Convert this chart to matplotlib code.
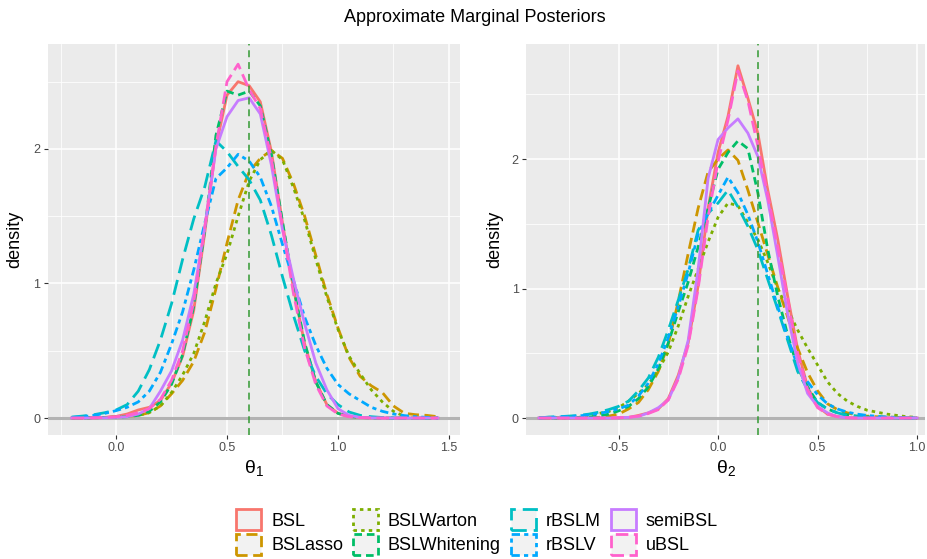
import numpy as np
import matplotlib
matplotlib.use("Agg")
import matplotlib.pyplot as plt
from matplotlib.patches import Patch

plt.rcParams["font.family"] = ["Liberation Sans", "DejaVu Sans"]
plt.rcParams["lines.scale_dashes"] = False

# ---- data: kernel density estimates of the two marginal posteriors ----
methods = ["BSL", "BSLasso", "BSLWarton", "BSLWhitening", "rBSLM", "rBSLV", "semiBSL", "uBSL"]
true_theta = [0.6, 0.2]

theta1_grid = [-0.20, -0.15, -0.10, -0.05, 0.00, 0.05, 0.10, 0.15, 0.20, 0.25, 0.30, 0.35,
               0.40, 0.45, 0.50, 0.55, 0.60, 0.65, 0.70, 0.75, 0.80, 0.85, 0.90, 0.95,
               1.00, 1.05, 1.10, 1.15, 1.20, 1.25, 1.30, 1.35, 1.40, 1.45]

bsl_t1 = [0.000, 0.001, 0.002, 0.005, 0.012, 0.030, 0.060, 0.080, 0.130, 0.260, 0.460, 0.800,
          1.380, 2.020, 2.400, 2.500, 2.470, 2.350, 1.980, 1.450, 0.960, 0.550, 0.270, 0.100,
          0.035, 0.012, 0.004, 0.001, 0.000, 0.000, 0.000, 0.000, 0.000, 0.000]
bslasso_t1 = [0.000, 0.000, 0.002, 0.004, 0.008, 0.012, 0.020, 0.040, 0.090, 0.180, 0.280, 0.420,
              0.640, 0.960, 1.300, 1.620, 1.830, 1.930, 1.990, 1.930, 1.740, 1.500, 1.210, 0.920,
              0.670, 0.450, 0.310, 0.240, 0.190, 0.090, 0.035, 0.025, 0.020, 0.010]
bslwarton_t1 = [0.000, 0.000, 0.002, 0.004, 0.008, 0.012, 0.020, 0.040, 0.090, 0.190, 0.320, 0.480,
                0.720, 1.000, 1.220, 1.500, 1.760, 1.920, 1.990, 1.920, 1.710, 1.470, 1.180, 0.900,
                0.660, 0.460, 0.330, 0.210, 0.120, 0.050, 0.012, 0.003, 0.000, 0.000]
bslwhitening_t1 = [0.000, 0.000, 0.002, 0.004, 0.006, 0.010, 0.020, 0.050, 0.120, 0.250, 0.470, 0.830,
                   1.400, 2.100, 2.430, 2.400, 2.430, 2.320, 1.960, 1.460, 0.970, 0.560, 0.270, 0.100,
                   0.035, 0.012, 0.004, 0.001, 0.000, 0.000, 0.000, 0.000, 0.000, 0.000]
rbslm_t1 = [0.007, 0.015, 0.025, 0.040, 0.060, 0.100, 0.200, 0.360, 0.580, 0.850, 1.180, 1.480,
            1.720, 2.060, 1.980, 1.870, 1.770, 1.620, 1.360, 1.050, 0.760, 0.500, 0.310, 0.180,
            0.100, 0.045, 0.020, 0.010, 0.004, 0.001, 0.000, 0.000, 0.000, 0.000]
rbslv_t1 = [0.005, 0.010, 0.020, 0.035, 0.055, 0.080, 0.120, 0.200, 0.340, 0.550, 0.790, 1.100,
            1.450, 1.780, 1.860, 1.960, 1.910, 1.790, 1.575, 1.290, 1.020, 0.750, 0.540, 0.370,
            0.250, 0.180, 0.130, 0.080, 0.050, 0.030, 0.018, 0.010, 0.005, 0.000]
semibsl_t1 = [0.000, 0.000, 0.001, 0.002, 0.005, 0.010, 0.030, 0.070, 0.200, 0.350, 0.580, 0.920,
              1.420, 2.000, 2.240, 2.360, 2.380, 2.260, 1.880, 1.400, 1.030, 0.700, 0.410, 0.210,
              0.070, 0.020, 0.005, 0.001, 0.000, 0.000, 0.000, 0.000, 0.000, 0.000]
ubsl_t1 = [0.000, 0.000, 0.002, 0.005, 0.010, 0.020, 0.040, 0.070, 0.140, 0.280, 0.500, 0.860,
           1.420, 2.020, 2.500, 2.630, 2.440, 2.300, 1.930, 1.420, 0.920, 0.520, 0.250, 0.090,
           0.030, 0.010, 0.003, 0.001, 0.000, 0.000, 0.000, 0.000, 0.000, 0.000]

theta2_grid = [-0.90, -0.85, -0.80, -0.75, -0.70, -0.65, -0.60, -0.55, -0.50, -0.45, -0.40,
               -0.35, -0.30, -0.25, -0.20, -0.15, -0.10, -0.05, 0.00, 0.05, 0.10, 0.15, 0.20,
               0.25, 0.30, 0.35, 0.40, 0.45, 0.50, 0.55, 0.60, 0.65, 0.70, 0.75, 0.80, 0.85,
               0.90, 0.95, 1.00]

bsl_t2 = [0.000, 0.000, 0.000, 0.000, 0.000, 0.000, 0.000, 0.000, 0.002, 0.005, 0.020,
          0.040, 0.070, 0.150, 0.330, 0.580, 1.020, 1.620, 2.050, 2.330, 2.720, 2.470, 2.200,
          1.760, 1.380, 0.940, 0.530, 0.240, 0.090, 0.030, 0.012, 0.003, 0.000, 0.000, 0.000,
          0.000, 0.000, 0.000, 0.000]
bslasso_t2 = [0.000, 0.000, 0.000, 0.001, 0.002, 0.003, 0.005, 0.015, 0.030, 0.070, 0.120,
              0.220, 0.360, 0.570, 0.900, 1.270, 1.620, 1.900, 2.000, 2.070, 1.990, 1.760, 1.510,
              1.260, 1.010, 0.780, 0.540, 0.350, 0.210, 0.110, 0.065, 0.040, 0.022, 0.015, 0.010,
              0.008, 0.005, 0.002, 0.000]
bslwarton_t2 = [0.000, 0.000, 0.000, 0.002, 0.005, 0.020, 0.035, 0.050, 0.080, 0.130, 0.190,
                0.260, 0.370, 0.510, 0.710, 0.940, 1.150, 1.360, 1.550, 1.660, 1.640, 1.510, 1.380,
                1.200, 1.000, 0.840, 0.680, 0.540, 0.410, 0.280, 0.190, 0.130, 0.090, 0.060, 0.045,
                0.030, 0.020, 0.010, 0.005]
bslwhitening_t2 = [0.000, 0.000, 0.000, 0.002, 0.004, 0.008, 0.015, 0.030, 0.055, 0.090, 0.150,
                   0.240, 0.380, 0.580, 0.820, 1.050, 1.320, 1.620, 1.920, 2.050, 2.140, 2.080, 1.740,
                   1.300, 0.940, 0.640, 0.390, 0.240, 0.120, 0.070, 0.040, 0.025, 0.015, 0.010, 0.005,
                   0.002, 0.000, 0.000, 0.000]
rbslm_t2 = [0.000, 0.008, 0.010, 0.015, 0.020, 0.030, 0.045, 0.065, 0.090, 0.130, 0.210,
            0.310, 0.470, 0.680, 0.910, 1.150, 1.450, 1.580, 1.660, 1.760, 1.630, 1.480, 1.300,
            1.070, 0.840, 0.600, 0.360, 0.220, 0.120, 0.070, 0.040, 0.020, 0.010, 0.005, 0.002,
            0.000, 0.000, 0.000, 0.000]
rbslv_t2 = [0.000, 0.005, 0.008, 0.012, 0.016, 0.025, 0.035, 0.050, 0.070, 0.100, 0.170,
            0.270, 0.420, 0.620, 0.860, 1.120, 1.420, 1.580, 1.720, 1.860, 1.740, 1.570, 1.360,
            1.110, 0.860, 0.620, 0.400, 0.280, 0.180, 0.110, 0.070, 0.045, 0.030, 0.020, 0.013,
            0.008, 0.004, 0.002, 0.000]
semibsl_t2 = [0.000, 0.000, 0.000, 0.000, 0.000, 0.000, 0.000, 0.000, 0.002, 0.005, 0.012,
              0.040, 0.080, 0.140, 0.310, 0.600, 1.150, 1.850, 2.150, 2.240, 2.310, 2.200, 2.020,
              1.680, 1.250, 0.800, 0.430, 0.190, 0.090, 0.040, 0.010, 0.002, 0.000, 0.000, 0.000,
              0.000, 0.000, 0.000, 0.000]
ubsl_t2 = [0.000, 0.000, 0.000, 0.000, 0.000, 0.000, 0.000, 0.000, 0.002, 0.005, 0.015,
           0.035, 0.065, 0.140, 0.300, 0.560, 1.000, 1.550, 1.980, 2.300, 2.680, 2.450, 2.100,
           1.720, 1.320, 0.920, 0.500, 0.220, 0.080, 0.030, 0.010, 0.002, 0.000, 0.000, 0.000,
           0.000, 0.000, 0.000, 0.000]

theta1_curves = [bsl_t1, bslasso_t1, bslwarton_t1, bslwhitening_t1, rbslm_t1, rbslv_t1, semibsl_t1, ubsl_t1]
theta2_curves = [bsl_t2, bslasso_t2, bslwarton_t2, bslwhitening_t2, rbslm_t2, rbslv_t2, semibsl_t2, ubsl_t2]

# ggplot hue palette and per-method line types (dash lengths in points)
colors = ["#F8766D", "#CD9600", "#7CAE00", "#00BE67", "#00BFC4", "#00A9FF", "#C77CFF", "#FF61CC"]
linestyles = ["solid", (0, (8, 4)), (0, (2.5, 3)), (0, (5.5, 3.5)), (0, (11, 5)),
              (0, (6, 3, 3, 3)), "solid", (0, (9, 4))]

W, H = 927, 559
fig = plt.figure(figsize=(W / 100, H / 100), dpi=100)
ax1 = fig.add_axes([47.5 / W, 124 / H, 412.5 / W, 391 / H])
ax2 = fig.add_axes([526 / W, 124 / H, 399 / W, 391 / H])


def style_panel(ax, xlim, ylim, xmajor, xlabels, xminor, xlabel, ylab_x):
    ax.set_facecolor("#EBEBEB")
    for s in ax.spines.values():
        s.set_visible(False)
    ax.set_xlim(*xlim)
    ax.set_ylim(*ylim)
    ax.set_xticks(xmajor)
    ax.set_xticklabels(xlabels)
    ax.set_xticks(xminor, minor=True)
    ax.set_yticks([0, 1, 2])
    ax.set_yticklabels(["0", "1", "2"])
    ax.set_yticks([0.5, 1.5, 2.5], minor=True)
    ax.grid(which="major", color="white", lw=1.1)
    ax.grid(which="minor", color="white", lw=0.55)
    ax.set_axisbelow(True)
    ax.tick_params(which="major", length=2.8, width=0.8, color="#333333",
                   labelsize=9, labelcolor="#4D4D4D", pad=2.5)
    ax.tick_params(which="minor", length=0)
    ax.set_xlabel(xlabel, fontsize=14)
    ax.set_ylabel("density", fontsize=13)
    ax.xaxis.set_label_coords(0.5, -0.06)
    ax.yaxis.set_label_coords(ylab_x, 0.5)


style_panel(ax1, (-0.309, 1.55), (-0.126, 2.78), [0.0, 0.5, 1.0, 1.5],
            ["0.0", "0.5", "1.0", "1.5"], [-0.25, 0.25, 0.75, 1.25],
            r"$\mathregular{θ_1}$", -0.06)
style_panel(ax2, (-0.965, 1.04), (-0.131, 2.888), [-0.5, 0.0, 0.5, 1.0],
            ["-0.5", "0.0", "0.5", "1.0"], [-0.75, -0.25, 0.25, 0.75],
            r"$\mathregular{θ_2}$", -0.056)

for ax, grid, curves, truth in [(ax1, theta1_grid, theta1_curves, true_theta[0]),
                                (ax2, theta2_grid, theta2_curves, true_theta[1])]:
    ax.axhline(0, color="#B3B3B3", lw=2.2, zorder=1.5)
    for y, c, ls in zip(curves, colors, linestyles):
        ax.plot(grid, y, color=c, lw=2.0, ls=ls, dash_capstyle="butt",
                solid_joinstyle="round", zorder=2)
    ax.axvline(truth, color="#339933", lw=1.1, ls=(0, (5, 3.5)), zorder=3)

fig.text(475 / W, 1 - 18 / H, "Approximate Marginal Posteriors", ha="center",
         va="center", fontsize=13)

handles = [Patch(facecolor="#F2F2F2", edgecolor=c, linewidth=2.0, linestyle=ls)
           for c, ls in zip(colors, linestyles)]
fig.legend(handles, methods, ncol=4, loc="center", bbox_to_anchor=(477 / W, 1 - 532 / H),
           frameon=False, fontsize=13, handlelength=1.38, handleheight=1.38,
           handletextpad=0.55, columnspacing=0.55, labelspacing=0.22, borderpad=0)

fig.savefig("out.png", dpi=100)
